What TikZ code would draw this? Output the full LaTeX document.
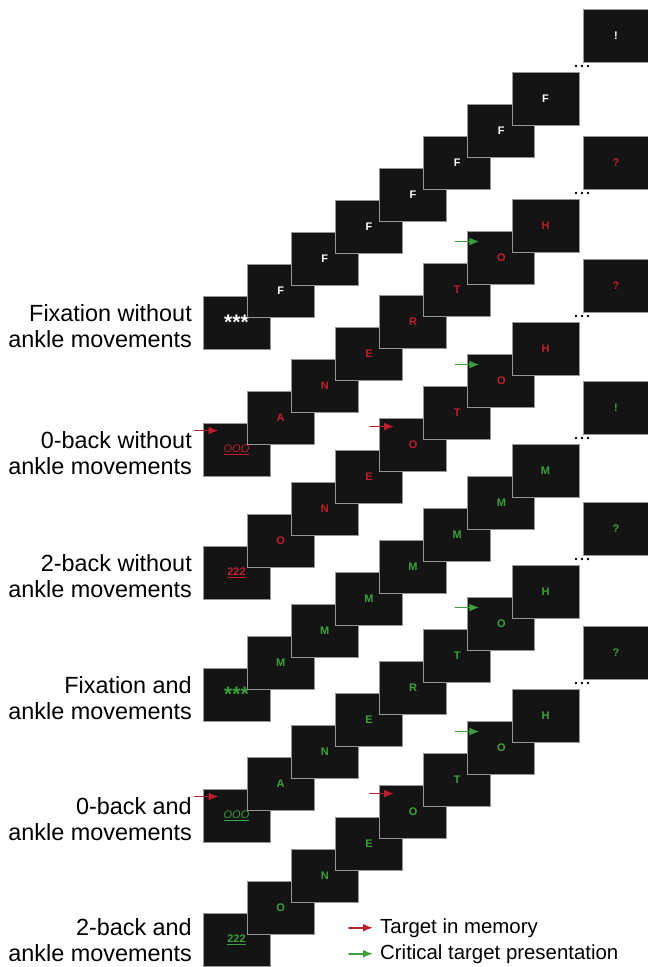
\documentclass[tikz,border=0pt]{standalone}
\usepackage{fontspec}
\setmainfont{Liberation Sans}
\usetikzlibrary{arrows.meta}
\definecolor{screen}{RGB}{20,20,20}
\definecolor{frame}{RGB}{150,150,150}
\definecolor{tred}{RGB}{190,30,45}
\definecolor{tgreen}{RGB}{60,160,60}
\begin{document}
\begin{tikzpicture}[x=1pt, y=-1pt, line cap=round, >={Latex[length=10pt,width=8pt]}]
	\tikzset{trial/.style={draw=frame, fill=screen, line width=0.9pt, minimum width=67pt, minimum height=53pt, inner sep=0pt, font=\bfseries\fontsize{11}{11}\selectfont},
		cond/.style={anchor=south east, align=right, inner sep=0pt, font=\fontsize{23.4}{26}\selectfont},
		legend/.style={anchor=base west, inner sep=0pt, font=\fontsize{20.4}{24}\selectfont},
		memory/.style={->, tred, line width=1.8pt},
		critical/.style={->, tgreen, line width=1.8pt}}
	\useasboundingbox (0,0) rectangle (648,967);
	% fixation without ankle movements
	\foreach \ch [count=\i from 0] in {{\fontsize{21}{21}\selectfont ***},F,F,F,F,F,F,F}
		\node[trial, text=white] (r1-\i) at ({236.5+44.14*\i}, {322.5-32*\i}) {\ch};
	\node[trial, minimum width=66pt, text=white] (q1) at (616,35.5) {!};
	\foreach \d in {0,6,12} \fill (576+\d,66) circle (1.4);
	\node[cond] (c1) at (192,348) {Fixation without\\ankle movements};
	% 0-back without ankle movements
	\foreach \ch [count=\i from 0] in {{\mdseries\underline{\textit{OOO}}},A,N,E,R,T,O,H}
		\node[trial, text=tred] (r2-\i) at ({236.5+44.14*\i}, {449.5-32*\i}) {\ch};
	\node[trial, minimum width=66pt, text=tred] (q2) at (616,162.5) {?};
	\foreach \d in {0,6,12} \fill (576+\d,193) circle (1.4);
	\node[cond] (c2) at (192,475) {0-back without\\ankle movements};
	\draw[memory] ([shift={(-8,8)}]r2-0.north west) -- ([shift={(16,8)}]r2-0.north west);
	\draw[critical] ([shift={(-12,11)}]r2-6.north west) -- ([shift={(12,11)}]r2-6.north west);
	% 2-back without ankle movements
	\foreach \ch [count=\i from 0] in {{\underline{222}},O,N,E,O,T,O,H}
		\node[trial, text=tred] (r3-\i) at ({236.5+44.14*\i}, {572.5-32*\i}) {\ch};
	\node[trial, minimum width=66pt, text=tred] (q3) at (616,285.5) {?};
	\foreach \d in {0,6,12} \fill (576+\d,316) circle (1.4);
	\node[cond] (c3) at (192,598) {2-back without\\ankle movements};
	\draw[memory] ([shift={(-9,9)}]r3-4.north west) -- ([shift={(15,9)}]r3-4.north west);
	\draw[critical] ([shift={(-12,11)}]r3-6.north west) -- ([shift={(12,11)}]r3-6.north west);
	% fixation and ankle movements
	\foreach \ch [count=\i from 0] in {{\fontsize{21}{21}\selectfont ***},M,M,M,M,M,M,M}
		\node[trial, text=tgreen] (r4-\i) at ({236.5+44.14*\i}, {694.5-32*\i}) {\ch};
	\node[trial, minimum width=66pt, text=tgreen] (q4) at (616,407.5) {!};
	\foreach \d in {0,6,12} \fill (576+\d,438) circle (1.4);
	\node[cond] (c4) at (192,720) {Fixation and\\ankle movements};
	% 0-back and ankle movements
	\foreach \ch [count=\i from 0] in {{\mdseries\underline{\textit{OOO}}},A,N,E,R,T,O,H}
		\node[trial, text=tgreen] (r5-\i) at ({236.5+44.14*\i}, {815.5-32*\i}) {\ch};
	\node[trial, minimum width=66pt, text=tgreen] (q5) at (616,528.5) {?};
	\foreach \d in {0,6,12} \fill (576+\d,559) circle (1.4);
	\node[cond] (c5) at (192,841) {0-back and\\ankle movements};
	\draw[memory] ([shift={(-8,8)}]r5-0.north west) -- ([shift={(16,8)}]r5-0.north west);
	\draw[critical] ([shift={(-12,11)}]r5-6.north west) -- ([shift={(12,11)}]r5-6.north west);
	% 2-back and ankle movements
	\foreach \ch [count=\i from 0] in {{\underline{222}},O,N,E,O,T,O,H}
		\node[trial, text=tgreen] (r6-\i) at ({236.5+44.14*\i}, {939.5-32*\i}) {\ch};
	\node[trial, minimum width=66pt, text=tgreen] (q6) at (616,652.5) {?};
	\foreach \d in {0,6,12} \fill (576+\d,683) circle (1.4);
	\node[cond] (c6) at (192,962) {2-back and\\ankle movements};
	\draw[memory] ([shift={(-9,9)}]r6-4.north west) -- ([shift={(15,9)}]r6-4.north west);
	\draw[critical] ([shift={(-12,11)}]r6-6.north west) -- ([shift={(12,11)}]r6-6.north west);
	% legend
	\node[legend] (legmem) at (380,933) {Target in memory};
	\node[legend] (legcrit) at (380,959) {Critical target presentation};
	\draw[memory] ([xshift=-31pt]legmem.west) -- ([xshift=-7pt]legmem.west);
	\draw[critical] ([xshift=-31pt]legcrit.west) -- ([xshift=-7pt]legcrit.west);
\end{tikzpicture}
\end{document}
